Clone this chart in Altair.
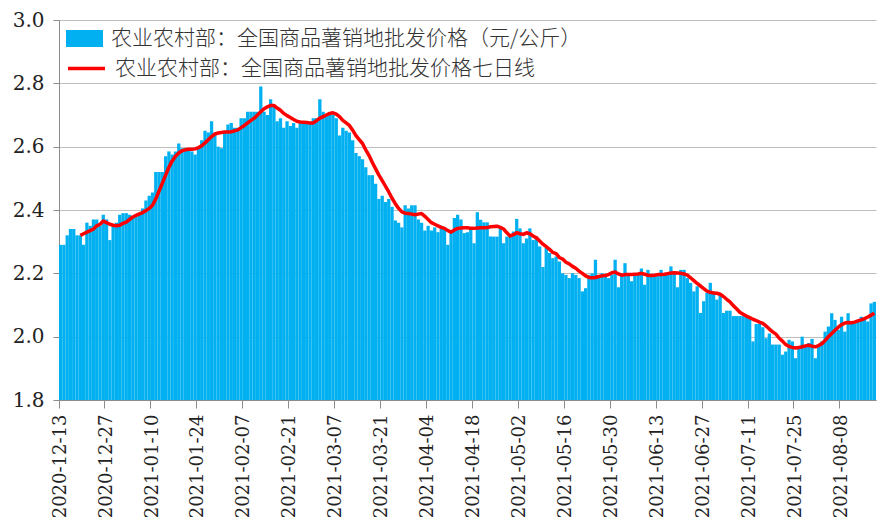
import altair as alt
import pandas as pd

start_date = "2020-12-13"

# daily wholesale price (yuan/kg), 2020-12-13 .. 2021-08-18
price = [
    2.29, 2.29, 2.32, 2.34, 2.34, 2.32, 2.32, 2.29, 2.36, 2.35,
    2.37, 2.37, 2.35, 2.385, 2.37, 2.305, 2.35, 2.36, 2.385, 2.39,
    2.39, 2.385, 2.38, 2.38, 2.39, 2.405, 2.43, 2.445, 2.455, 2.52,
    2.52, 2.52, 2.57, 2.585, 2.575, 2.585, 2.61, 2.595, 2.595, 2.595,
    2.585, 2.575, 2.60, 2.62, 2.65, 2.645, 2.68, 2.64, 2.60, 2.595,
    2.65, 2.67, 2.675, 2.66, 2.66, 2.69, 2.69, 2.71, 2.71, 2.71,
    2.71, 2.79, 2.71, 2.70, 2.75, 2.725, 2.68, 2.69, 2.66, 2.68,
    2.665, 2.675, 2.66, 2.675, 2.675, 2.675, 2.675, 2.69, 2.69, 2.75,
    2.71, 2.70, 2.70, 2.70, 2.69, 2.635, 2.66, 2.65, 2.645, 2.62,
    2.58, 2.57, 2.56, 2.535, 2.51, 2.51, 2.483, 2.435, 2.445, 2.425,
    2.435, 2.41, 2.367, 2.36, 2.345, 2.415, 2.405, 2.415, 2.415, 2.37,
    2.36, 2.335, 2.35, 2.335, 2.345, 2.33, 2.35, 2.34, 2.29, 2.33,
    2.375, 2.385, 2.37, 2.327, 2.33, 2.34, 2.295, 2.393, 2.369, 2.361,
    2.361, 2.316, 2.316, 2.316, 2.342, 2.295, 2.316, 2.316, 2.332, 2.372,
    2.342, 2.295, 2.31, 2.342, 2.305, 2.316, 2.285, 2.22, 2.28, 2.264,
    2.248, 2.253, 2.237, 2.20, 2.195, 2.185, 2.20, 2.195, 2.185, 2.143,
    2.153, 2.195, 2.20, 2.243, 2.19, 2.20, 2.19, 2.185, 2.196, 2.243,
    2.156, 2.20, 2.232, 2.20, 2.175, 2.196, 2.20, 2.215, 2.164, 2.211,
    2.196, 2.196, 2.196, 2.211, 2.196, 2.196, 2.222, 2.206, 2.156, 2.211,
    2.211, 2.185, 2.17, 2.143, 2.159, 2.075, 2.112, 2.138, 2.17, 2.143,
    2.117, 2.138, 2.075, 2.082, 2.082, 2.065, 2.065, 2.065, 2.065, 2.063,
    2.063, 1.985, 2.04, 2.04, 2.03, 1.995, 2.01, 1.975, 1.975, 1.975,
    1.943, 1.953, 1.99, 1.985, 1.932, 1.969, 2.0, 1.969, 1.98, 1.993,
    1.932, 1.974, 1.985, 2.016, 2.032, 2.074, 2.053, 2.022, 2.063, 2.016,
    2.074, 2.042, 2.042, 2.053, 2.063, 2.058, 2.048, 2.105, 2.11,
]

# seven-day line, 2020-12-19 .. 2021-08-18
ma7 = [
    2.32, 2.325, 2.33, 2.335, 2.34, 2.35, 2.355, 2.365, 2.36, 2.355,
    2.352, 2.35, 2.352, 2.358, 2.362, 2.37, 2.378, 2.383, 2.388, 2.392,
    2.398, 2.405, 2.415, 2.435, 2.46, 2.485, 2.51, 2.535, 2.555, 2.57,
    2.58, 2.587, 2.59, 2.592, 2.592, 2.593, 2.597, 2.603, 2.612, 2.622,
    2.632, 2.64, 2.643, 2.645, 2.646, 2.646, 2.647, 2.65, 2.653, 2.66,
    2.667, 2.675, 2.683, 2.69, 2.70, 2.71, 2.72, 2.726, 2.73, 2.73,
    2.722, 2.715, 2.705, 2.698, 2.692, 2.686, 2.68, 2.678, 2.677, 2.676,
    2.675, 2.675, 2.682, 2.69, 2.695, 2.70, 2.705, 2.707, 2.703, 2.695,
    2.683, 2.675, 2.667, 2.652, 2.635, 2.622, 2.61, 2.59, 2.572, 2.55,
    2.53, 2.51, 2.493, 2.475, 2.457, 2.437, 2.42, 2.405, 2.394, 2.39,
    2.389, 2.387, 2.385, 2.387, 2.389, 2.38, 2.37, 2.36, 2.355, 2.35,
    2.345, 2.342, 2.335, 2.33, 2.337, 2.342, 2.343, 2.344, 2.344, 2.342,
    2.342, 2.343, 2.344, 2.344, 2.345, 2.347, 2.348, 2.349, 2.345, 2.34,
    2.328, 2.318, 2.322, 2.328, 2.325, 2.323, 2.328, 2.325, 2.318, 2.312,
    2.302, 2.292, 2.284, 2.276, 2.266, 2.262, 2.25, 2.245, 2.235, 2.23,
    2.222, 2.216, 2.207, 2.20, 2.192, 2.187, 2.186, 2.187, 2.19, 2.192,
    2.193, 2.196, 2.202, 2.204, 2.198, 2.194, 2.196, 2.196, 2.196, 2.197,
    2.198, 2.20, 2.197, 2.194, 2.193, 2.194, 2.196, 2.196, 2.197, 2.199,
    2.201, 2.202, 2.201, 2.20, 2.198, 2.194, 2.186, 2.177, 2.168, 2.16,
    2.152, 2.144, 2.14, 2.138, 2.137, 2.134, 2.127, 2.118, 2.11, 2.098,
    2.088, 2.077, 2.071, 2.065, 2.06, 2.055, 2.051, 2.046, 2.042, 2.034,
    2.024, 2.015, 2.008, 1.995, 1.986, 1.975, 1.969, 1.966, 1.964, 1.966,
    1.968, 1.971, 1.973, 1.97, 1.968, 1.972, 1.978, 1.988, 2.0, 2.01,
    2.02, 2.03, 2.038, 2.043, 2.045, 2.044, 2.046, 2.05, 2.053, 2.057,
    2.062, 2.068, 2.074,
]

tick_labels = [
    "2020-12-13", "2020-12-27", "2021-01-10", "2021-01-24", "2021-02-07",
    "2021-02-21", "2021-03-07", "2021-03-21", "2021-04-04", "2021-04-18",
    "2021-05-02", "2021-05-16", "2021-05-30", "2021-06-13", "2021-06-27",
    "2021-07-11", "2021-07-25", "2021-08-08",
]
y_ticks = [1.8, 2.0, 2.2, 2.4, 2.6, 2.8, 3.0]

bar_label = "农业农村部：全国商品薯销地批发价格（元/公斤）"
line_label = "农业农村部：全国商品薯销地批发价格七日线"

dates = pd.date_range(start_date, periods=len(price)).strftime("%Y-%m-%d").tolist()
bars_df = pd.DataFrame({"date": dates, "value": price, "series": bar_label})
line_df = pd.DataFrame({"date": dates[len(price) - len(ma7):], "value": ma7, "series": line_label})

legend_common = dict(
    title=None, orient="none", padding=0,
    labelFont="Noto Sans CJK SC", labelFontSize=21, labelFontWeight=300,
    labelColor="#333333", labelLimit=0, labelOffset=8, symbolSize=1369,
)

x_enc = alt.X(
    "date:O",
    scale=alt.Scale(domain=dates, paddingInner=0, paddingOuter=0),
    axis=alt.Axis(
        values=tick_labels, labelAngle=270, bandPosition=0, title=None,
        labelFont="DejaVu Serif", labelFontSize=18, labelColor="#222222",
        labelPadding=6, tickSize=8, tickColor="#8C8C8C", domainColor="#8C8C8C",
        grid=False, labelBaseline="middle", labelAlign="right",
    ),
)
y_scale = alt.Scale(domain=[1.8, 3.0], nice=False, zero=False)
y_axis = alt.Axis(
    values=y_ticks, format=".1f", title=None,
    labelFont="DejaVu Serif", labelFontSize=20, labelColor="#222222",
    labelPadding=9, tickSize=6, tickColor="#8C8C8C", domainColor="#8C8C8C",
    grid=True, gridColor="#BFBFBF", gridWidth=1.2,
)

bars = alt.Chart(bars_df).mark_bar(strokeWidth=0).encode(
    x=x_enc,
    y=alt.Y("value:Q", scale=y_scale, axis=y_axis),
    y2=alt.datum(1.8),
    fill=alt.Fill(
        "series:N",
        scale=alt.Scale(domain=[bar_label], range=["#00B0F0"]),
        legend=alt.Legend(symbolType="M-1,-0.46H1V0.46H-1Z", symbolStrokeWidth=0,
                          symbolOpacity=1, legendX=7, legendY=0, **legend_common),
    ),
)

line = alt.Chart(line_df).mark_line(strokeWidth=3.5, strokeJoin="round").encode(
    x=x_enc,
    y=alt.Y("value:Q", scale=y_scale, axis=y_axis),
    stroke=alt.Stroke(
        "series:N",
        scale=alt.Scale(domain=[line_label], range=["#FF0000"]),
        legend=alt.Legend(symbolType="stroke", symbolStrokeWidth=3.3,
                          legendX=7, legendY=28, **legend_common),
    ),
)

chart = alt.layer(bars, line).properties(
    width=817, height=380,
    padding={"left": 4, "top": 2, "right": 0, "bottom": 0},
).configure_view(strokeWidth=0)

chart.save("out.html", embed_options={"renderer": "svg", "actions": False})
